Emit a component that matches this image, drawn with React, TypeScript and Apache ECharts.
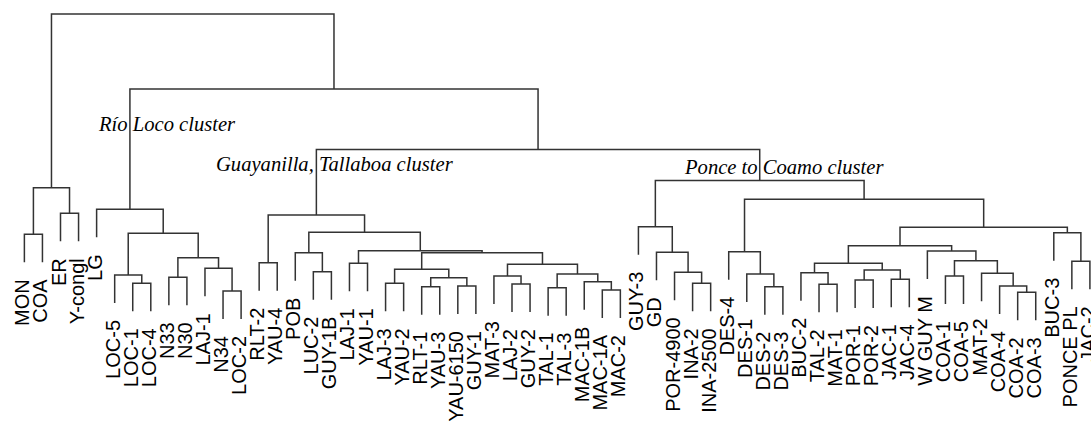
import React, { useEffect, useRef } from "react";
import * as echarts from "echarts";

// Leaf labels, left to right
const leafLabels = [
  "MON", "COA", "ER", "Y-congl", "LG", "LOC-5", "LOC-1", "LOC-4", "N33", "N30",
  "LAJ-1", "N34", "LOC-2", "RLT-2", "YAU-4", "POB", "LUC-2", "GUY-1B", "LAJ-1", "YAU-1",
  "LAJ-3", "YAU-2", "RLT-1", "YAU-3", "YAU-6150", "GUY-1", "MAT-3", "LAJ-2", "GUY-2", "TAL-1",
  "TAL-3", "MAC-1B", "MAC-1A", "MAC-2", "GUY-3", "GD", "POR-4900", "INA-2", "INA-2500", "DES-4",
  "DES-1", "DES-2", "DES-3", "BUC-2", "TAL-2", "MAT-1", "POR-1", "POR-2", "JAC-1", "JAC-4",
  "W GUY M", "COA-1", "COA-5", "MAT-2", "COA-4", "COA-2", "COA-3", "BUC-3", "PONCE PL", "JAC-2",
];

// hclust-style merge table: negative = leaf (1-based), positive = earlier merge row (1-based)
const mergeLeft = [
  -1, -3, 1, -7, -6, -9, -12, -11, 6, 5,
  -5, -14, -17, -16, -19, -21, -23, -25, 17, 16,
  -28, -27, -30, -33, -32, 23, 22, 20, 15, 14,
  12, -38, -37, -36, -35, -42, -41, -40, -45, -44,
  -47, -49, 41, 40, -52, -56, -55, -54, 45, -51,
  44, -59, -58, 51, 38, 35, 31, 11, 3,
];
const mergeRight = [
  -2, -4, 2, -8, 4, -10, -13, 7, 8, 9,
  10, -15, -18, 13, -20, -22, -24, -26, 18, 19,
  -29, 21, -31, -34, 24, 25, 26, 27, 28, 29,
  30, -39, 32, 33, 34, -43, 36, 37, -46, 39,
  -48, -50, 42, 43, -53, -57, 46, 47, 48, 49,
  50, -60, 52, 53, 54, 55, 56, 57, 58,
];
const mergeHeight = [
  0.857, 1.067, 1.323, 0.367, 0.45, 0.427, 0.29, 0.517, 0.623, 0.867,
  1.107, 0.573, 0.483, 0.673, 0.567, 0.367, 0.333, 0.34, 0.423, 0.507,
  0.36, 0.44, 0.323, 0.30, 0.383, 0.46, 0.557, 0.673, 0.693, 0.877,
  1.05, 0.367, 0.477, 0.677, 0.933, 0.333, 0.46, 0.683, 0.357, 0.473,
  0.40, 0.407, 0.50, 0.567, 0.44, 0.277, 0.34, 0.467, 0.593, 0.69,
  0.743, 0.587, 0.873, 0.927, 1.207, 1.395, 1.705, 2.31, 3.06,
];

const clusterNotes = ["Río Loco cluster", "Guayanilla, Tallaboa cluster", "Ponce to Coamo cluster"];

const HANG = 0.28;

function buildTree() {
  const n = mergeHeight.length;
  const xs: number[] = new Array(n);
  const leafBottom: number[] = new Array(leafLabels.length).fill(0);
  const cx = (c: number) => (c < 0 ? -c - 1 : xs[c - 1]);
  const segs: number[][][] = [];
  for (let i = 0; i < n; i++) {
    const a = mergeLeft[i];
    const b = mergeRight[i];
    const h = mergeHeight[i];
    xs[i] = (cx(a) + cx(b)) / 2;
    const topOf = (c: number) => {
      if (c < 0) {
        leafBottom[-c - 1] = h - HANG;
        return h - HANG;
      }
      return mergeHeight[c - 1];
    };
    const ta = topOf(a);
    const tb = topOf(b);
    segs.push([
      [cx(a), ta],
      [cx(a), h],
      [cx(b), h],
      [cx(b), tb],
    ]);
  }
  return { segs, leafBottom };
}

export default function App() {
  const ref = useRef<HTMLDivElement>(null);
  useEffect(() => {
    if (!ref.current) return;
    const chart = echarts.init(ref.current, undefined, { renderer: "svg" });
    const { segs, leafBottom } = buildTree();
    const lineColor = "#333";
    const noteFont = "italic 20.6px 'Liberation Serif', serif";
    chart.setOption({
      animation: false,
      backgroundColor: "#fff",
      grid: { left: 0, right: 0, top: 0, bottom: 0, containLabel: false },
      xAxis: { type: "value", min: -1.35, max: 59.06, show: false, splitLine: { show: false } },
      yAxis: { type: "value", min: -1.05, max: 3.2, show: false, splitLine: { show: false } },
      series: [
        {
          type: "custom",
          clip: false,
          data: segs.map((_, i) => [i]),
          renderItem: (params: any, api: any) => {
            const s = segs[params.dataIndex];
            const pts = s.map((p) => api.coord(p));
            return {
              type: "polyline",
              shape: { points: pts },
              style: { stroke: lineColor, lineWidth: 1.5, fill: "none" },
            };
          },
        },
        {
          type: "custom",
          clip: false,
          data: leafLabels.map((_, i) => [i, leafBottom[i]]),
          renderItem: (params: any, api: any) => {
            const i = params.dataIndex;
            const p = api.coord([i, leafBottom[i]]);
            return {
              type: "text",
              x: p[0] - 2,
              y: p[1] + 17,
              rotation: Math.PI / 2,
              style: {
                text: leafLabels[i],
                fill: "#000",
                fontSize: 20,
                fontFamily: "'Liberation Sans', Arial, sans-serif",
                align: "right",
                verticalAlign: "middle",
              },
            };
          },
        },
      ],
      graphic: [
        { type: "text", x: 99, y: 123.5, style: { text: clusterNotes[0], fill: "#000", font: noteFont, align: "left", verticalAlign: "middle" } },
        { type: "text", x: 216, y: 163.5, style: { text: clusterNotes[1], fill: "#000", font: noteFont, align: "left", verticalAlign: "middle" } },
        { type: "text", x: 685, y: 167, style: { text: clusterNotes[2], fill: "#000", font: noteFont, align: "left", verticalAlign: "middle" } },
      ],
    });
    return () => chart.dispose();
  }, []);
  return (
    <div
      ref={ref}
      style={{ position: "fixed", left: 0, top: 0, width: 1091, height: 425, background: "#fff" }}
    />
  );
}
